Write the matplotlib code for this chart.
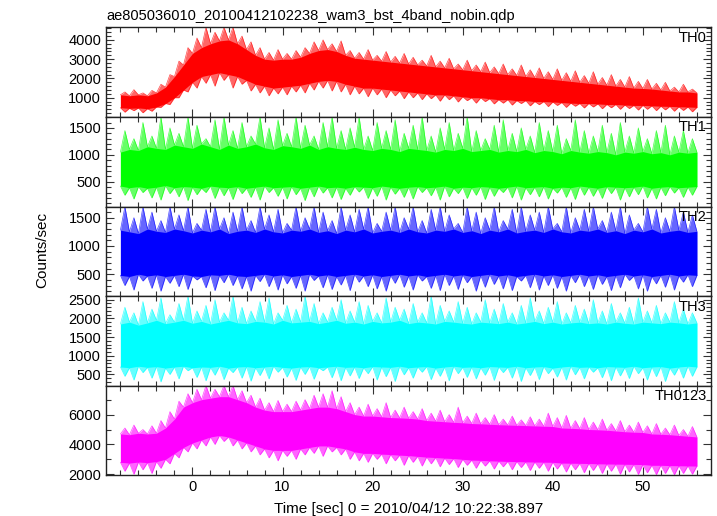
import numpy as np
import matplotlib.pyplot as plt
from matplotlib.ticker import MultipleLocator

plt.rcParams['font.family'] = ['Liberation Sans', 'DejaVu Sans']

# time grids (sec): dense core band read every 1 s, spike tips read in between
t_core = np.arange(-8, 57, 1)
t_spike = np.arange(-7.5, 56, 1)

# TH0 : counts/sec
th0_lo = [480, 450, 470, 430, 520, 700, 1000, 1400, 1800, 2100, 2200, 2300, 2200, 2100, 1900, 1700,
          1600, 1500, 1550, 1600, 1650, 1750, 1850, 1900, 1850, 1700, 1600, 1500, 1500, 1450, 1400, 1350,
          1300, 1250, 1200, 1150, 1150, 1100, 1050, 1000, 1000, 950, 900, 900, 850, 850, 800, 800,
          780, 750, 720, 700, 700, 680, 650, 650, 620, 600, 600, 580, 560, 550, 530, 520, 500]
th0_hi = [1150, 1100, 1150, 1100, 1250, 1550, 2100, 2700, 3300, 3600, 3800, 3950, 4000, 3800, 3500, 3200,
          3000, 2950, 3000, 3000, 3100, 3300, 3450, 3500, 3400, 3200, 3050, 3000, 2950, 2900, 2850, 2800,
          2750, 2700, 2650, 2600, 2550, 2500, 2450, 2400, 2350, 2300, 2250, 2200, 2150, 2100, 2050, 2000,
          1950, 1900, 1850, 1800, 1750, 1700, 1650, 1600, 1550, 1500, 1480, 1450, 1400, 1350, 1300, 1300, 1250]
th0_shi = [1300, 1420, 1250, 1380, 1700, 2200, 2900, 3600, 4100, 4655, 4400, 4655, 4655, 4200, 3900, 3600,
           3350, 3500, 3300, 3450, 3600, 3900, 4000, 3800, 3950, 3450, 3350, 3500, 3200, 3400, 3150, 3300,
           3100, 2950, 3200, 2900, 3050, 2750, 2950, 2700, 2850, 2600, 2750, 2500, 2700, 2450, 2550, 2350,
           2500, 2300, 2400, 2150, 2350, 2050, 2200, 1950, 2100, 1850, 1950, 1750, 1800, 1550, 1700, 1450]
th0_slo = [250, 330, 220, 300, 500, 650, 1000, 1300, 1500, 1750, 1600, 1900, 1500, 1700, 1350, 1250,
           1100, 1200, 1150, 1300, 1250, 1400, 1500, 1350, 1300, 1150, 1200, 1050, 1150, 1000, 1100, 950,
           1000, 900, 950, 820, 900, 780, 850, 720, 800, 680, 720, 620, 700, 580, 640, 540,
           600, 500, 560, 470, 520, 430, 480, 400, 440, 360, 400, 330, 370, 300, 340, 270]

# TH1
th1_lo = [420, 390, 410, 380, 400, 430, 390, 410, 400, 380, 420, 400, 390, 410, 380, 400,
          420, 390, 400, 410, 380, 400, 420, 390, 400, 380, 410, 400, 390, 420, 400, 380,
          400, 410, 390, 400, 420, 380, 400, 390, 410, 400, 380, 400, 420, 390, 400, 410,
          380, 400, 390, 420, 400, 380, 410, 400, 390, 400, 420, 380, 400, 410, 390, 400, 410]
th1_hi = [1050, 1100, 1080, 1150, 1120, 1100, 1180, 1150, 1120, 1200, 1150, 1100, 1180, 1120, 1150, 1200,
          1130, 1100, 1170, 1150, 1120, 1180, 1100, 1150, 1120, 1100, 1140, 1100, 1080, 1120, 1100, 1060,
          1120, 1100, 1080, 1050, 1100, 1080, 1120, 1060, 1080, 1100, 1050, 1080, 1060, 1100, 1040, 1080,
          1060, 1020, 1080, 1050, 1030, 1060, 1040, 1000, 1050, 1030, 1060, 1020, 1040, 1000, 1050, 1030, 1050]
th1_shi = [1450, 1300, 1600, 1350, 1704, 1500, 1400, 1704, 1550, 1300, 1650, 1704, 1450, 1600, 1350, 1704,
           1500, 1650, 1400, 1704, 1550, 1350, 1600, 1704, 1450, 1500, 1704, 1350, 1600, 1450, 1650, 1400,
           1550, 1704, 1350, 1500, 1600, 1400, 1704, 1450, 1300, 1550, 1650, 1400, 1500, 1350, 1600, 1450,
           1550, 1300, 1650, 1450, 1350, 1550, 1400, 1600, 1350, 1500, 1300, 1450, 1550, 1350, 1450, 1300]
th1_slo = [250, 180, 300, 200, 160, 280, 220, 150, 260, 300, 190, 240, 170, 280, 210, 160,
           300, 230, 180, 260, 150, 220, 290, 200, 170, 250, 310, 190, 230, 160, 270, 210,
           180, 300, 240, 160, 220, 280, 190, 250, 170, 230, 300, 200, 160, 260, 220, 180,
           290, 210, 170, 250, 230, 190, 280, 160, 220, 260, 200, 180, 240, 290, 210, 250]

# TH2
th2_lo = [480, 460, 500, 470, 490, 460, 480, 500, 470, 460, 490, 480, 500, 470, 460, 480,
          500, 470, 490, 460, 480, 500, 470, 490, 460, 480, 500, 470, 490, 460, 480, 500,
          470, 490, 460, 480, 500, 470, 490, 460, 480, 500, 470, 490, 460, 480, 500, 470,
          490, 460, 480, 500, 470, 490, 460, 480, 500, 470, 490, 460, 480, 500, 470, 490, 480]
th2_hi = [1280, 1250, 1220, 1300, 1260, 1240, 1300, 1270, 1230, 1280, 1250, 1300, 1220, 1260, 1280, 1240,
          1300, 1250, 1230, 1280, 1260, 1300, 1240, 1270, 1220, 1280, 1250, 1300, 1230, 1260, 1280, 1240,
          1300, 1250, 1230, 1280, 1260, 1300, 1240, 1270, 1220, 1280, 1250, 1300, 1230, 1260, 1280, 1240,
          1300, 1250, 1230, 1280, 1260, 1300, 1240, 1270, 1220, 1280, 1250, 1300, 1230, 1260, 1280, 1240, 1260]
th2_shi = [1695, 1500, 1695, 1600, 1450, 1695, 1550, 1695, 1400, 1650, 1695, 1500, 1600, 1695, 1450, 1695,
           1550, 1650, 1400, 1695, 1500, 1695, 1600, 1450, 1695, 1550, 1650, 1695, 1400, 1600, 1695, 1500,
           1695, 1450, 1650, 1695, 1550, 1400, 1695, 1600, 1500, 1695, 1450, 1650, 1695, 1550, 1600, 1695,
           1400, 1695, 1500, 1650, 1695, 1450, 1600, 1695, 1550, 1400, 1695, 1650, 1500, 1695, 1600, 1550]
th2_slo = [300, 220, 380, 250, 200, 340, 280, 230, 400, 260, 210, 350, 300, 240, 200, 370,
           280, 220, 330, 250, 200, 390, 260, 230, 310, 210, 360, 280, 240, 200, 340, 270,
           220, 380, 250, 210, 300, 230, 350, 200, 270, 320, 240, 210, 380, 260, 220, 300,
           250, 200, 350, 280, 230, 320, 210, 260, 390, 240, 200, 330, 270, 220, 360, 280]

# TH3
th3_lo = [700, 680, 720, 690, 710, 670, 700, 720, 680, 700, 690, 720, 670, 700, 710, 680,
          700, 720, 690, 670, 700, 710, 680, 700, 720, 690, 700, 680, 710, 700, 690, 720,
          680, 700, 710, 670, 700, 720, 690, 700, 680, 710, 700, 690, 720, 680, 700, 710,
          670, 700, 720, 690, 700, 680, 710, 700, 690, 720, 680, 700, 710, 670, 700, 720, 700]
th3_hi = [1850, 1900, 1820, 1880, 1950, 1860, 1900, 1950, 1870, 1920, 1850, 1900, 1950, 1880, 1860, 1920,
          1900, 1850, 1950, 1880, 1900, 1920, 1860, 1900, 1950, 1870, 1900, 1850, 1920, 1880, 1900, 1950,
          1860, 1900, 1880, 1850, 1920, 1900, 1870, 1850, 1900, 1880, 1860, 1900, 1850, 1880, 1920, 1860,
          1900, 1850, 1880, 1900, 1860, 1880, 1850, 1900, 1870, 1850, 1900, 1880, 1860, 1900, 1880, 1850, 1880]
th3_shi = [2300, 2150, 2450, 2250, 2550, 2100, 2400, 2600, 2200, 2350, 2500, 2150, 2600, 2300, 2200, 2450,
           2550, 2150, 2350, 2250, 2600, 2400, 2150, 2300, 2500, 2200, 2450, 2350, 2150, 2550, 2300, 2250,
           2400, 2150, 2600, 2350, 2200, 2450, 2300, 2150, 2500, 2250, 2400, 2150, 2350, 2550, 2200, 2300,
           2450, 2150, 2350, 2250, 2500, 2200, 2400, 2150, 2300, 2550, 2200, 2350, 2150, 2450, 2250, 2150]
th3_slo = [450, 350, 550, 400, 300, 500, 380, 600, 420, 330, 480, 360, 550, 400, 320, 470,
           380, 560, 430, 340, 500, 370, 600, 410, 330, 460, 390, 520, 350, 440, 310, 490,
           400, 560, 360, 450, 330, 520, 420, 380, 480, 340, 550, 400, 310, 470, 360, 520,
           430, 350, 490, 380, 560, 410, 330, 460, 390, 520, 350, 440, 310, 480, 400, 450]

# TH0123
th0123_lo = [2800, 2750, 2820, 2780, 2850, 3000, 3400, 3800, 4100, 4300, 4500, 4600, 4500, 4300, 4100, 3900,
             3700, 3600, 3600, 3600, 3700, 3800, 3900, 3900, 3800, 3700, 3500, 3400, 3400, 3350, 3320, 3280,
             3250, 3200, 3150, 3120, 3080, 3050, 3000, 2950, 2930, 2900, 2880, 2860, 2850, 2830, 2820, 2810,
             2800, 2750, 2740, 2730, 2720, 2700, 2690, 2680, 2670, 2660, 2650, 2600, 2600, 2580, 2570, 2560, 2550]
th0123_hi = [4700, 4650, 4750, 4700, 4750, 5100, 5700, 6500, 6800, 7000, 7100, 7200, 7200, 7000, 6800, 6500,
             6300, 6200, 6200, 6200, 6300, 6400, 6500, 6500, 6400, 6200, 6000, 5900, 5900, 5850, 5800, 5780,
             5750, 5700, 5600, 5560, 5520, 5480, 5450, 5400, 5380, 5350, 5320, 5300, 5280, 5260, 5240, 5220,
             5200, 5100, 5080, 5050, 5000, 4980, 4950, 4900, 4850, 4820, 4800, 4700, 4680, 4650, 4600, 4550, 4500]
th0123_shi = [5100, 5300, 5000, 5250, 5600, 6200, 6900, 7400, 7700, 7950, 7700, 7950, 7950, 7600, 7300, 7100,
              6800, 6950, 6700, 6900, 7000, 7300, 7400, 7600, 7200, 6800, 6500, 6700, 6400, 6800, 6300, 6500,
              6200, 6400, 6100, 6300, 6000, 6500, 5900, 6100, 5800, 6000, 5700, 5900, 5650, 5850, 5700, 6100,
              5800, 5950, 5600, 5800, 5500, 5700, 5400, 5600, 5300, 5500, 5250, 5400, 5100, 5300, 5000, 5200]
th0123_slo = [2200, 2000, 2300, 2050, 2400, 2700, 3100, 3500, 3700, 3900, 4000, 4200, 3900, 3700, 3500, 3300,
              3100, 2900, 3200, 3000, 3300, 3400, 3200, 3500, 3300, 3000, 2900, 2800, 3000, 2700, 2900, 2600,
              2800, 2550, 2700, 2500, 2650, 2450, 2600, 2400, 2550, 2350, 2500, 2300, 2450, 2250, 2400, 2200,
              2350, 2150, 2300, 2100, 2250, 2050, 2200, 2000, 2150, 1980, 2100, 1970, 2050, 1960, 2050, 2000]

labels = ['TH0', 'TH1', 'TH2', 'TH3', 'TH0123']
colors = ['#ff0000', '#00ff00', '#0000ff', '#00ffff', '#ff00ff']
cores = [(th0_lo, th0_hi), (th1_lo, th1_hi), (th2_lo, th2_hi), (th3_lo, th3_hi), (th0123_lo, th0123_hi)]
spikes = [(th0_slo, th0_shi), (th1_slo, th1_shi), (th2_slo, th2_shi), (th3_slo, th3_shi),
          (th0123_slo, th0123_shi)]
ylims = [(5, 4655), (37, 1704), (115, 1695), (204, 2600), (1950, 7950)]
ymajor = [1000, 500, 500, 500, 2000]
yminor = [200, 100, 100, 100, 1000]


def merge(core_vals, spike_vals):
    # time-ordered edge: core value at each second, spike tip in between
    tt = np.empty(len(t_core) + len(t_spike))
    yy = np.empty_like(tt)
    tt[0::2], tt[1::2] = t_core, t_spike
    yy[0::2], yy[1::2] = core_vals, spike_vals
    return tt, yy


W, H = 717, 516
fig = plt.figure(figsize=(W / 100, H / 100), dpi=100)

# panel edges in pixels, top of figure downwards
edges = [27.3, 116.9, 206.7, 296.0, 385.5, 475.0]
x0, x1 = 106, 711.3

axes = []
for i in range(5):
    top, bot = edges[i], edges[i + 1]
    ax = fig.add_axes([x0 / W, 1 - bot / H, (x1 - x0) / W, (bot - top) / H])
    axes.append(ax)

    c = colors[i]
    lo, hi = cores[i]
    slo, shi = spikes[i]
    tu, yu = merge(hi, shi)
    tl, yl = merge(lo, slo)
    # spiky fringe (lighter), then the dense core on top
    ax.fill_between(tu, yl, yu, color=c, alpha=0.6, lw=0)
    ax.plot(tu, yu, color=c, lw=0.5, alpha=0.7)
    ax.plot(tl, yl, color=c, lw=0.5, alpha=0.7)
    ax.fill_between(t_core, lo, hi, color=c, lw=0)

    ax.set_xlim(-9.6, 57.6)
    ax.set_ylim(*ylims[i])
    ax.xaxis.set_major_locator(MultipleLocator(10))
    ax.xaxis.set_minor_locator(MultipleLocator(2))
    ax.yaxis.set_major_locator(MultipleLocator(ymajor[i]))
    ax.yaxis.set_minor_locator(MultipleLocator(yminor[i]))
    ax.tick_params(which='both', direction='in', top=True, right=True, labelsize=10.5,
                   color='#333333', width=0.8)
    ax.tick_params(which='major', length=6)
    ax.tick_params(which='minor', length=3.5)
    for s in ax.spines.values():
        s.set_linewidth(1.0)
        s.set_color('#222222')
    if i < 4:
        ax.tick_params(labelbottom=False)

    ax.text(0.992, 0.96, labels[i], transform=ax.transAxes, ha='right', va='top', fontsize=10.5,
            zorder=5)

axes[0].set_title('ae805036010_20100412102238_wam3_bst_4band_nobin.qdp',
                  loc='left', fontsize=10.5, pad=5)
axes[-1].set_xlabel('Time [sec] 0 = 2010/04/12 10:22:38.897', fontsize=11, labelpad=6)
fig.text(42 / W, 1 - 250 / H, 'Counts/sec', rotation=90, ha='center', va='center', fontsize=11)

fig.savefig('out.png', dpi=100)
